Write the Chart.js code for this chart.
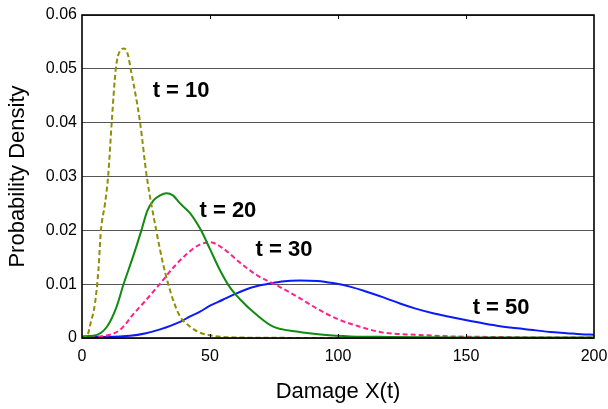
<!DOCTYPE html>
<html>
<head>
<meta charset="utf-8">
<script src="https://cdn.jsdelivr.net/npm/chart.js@4/dist/chart.umd.min.js"></script>
<style>
html,body{margin:0;padding:0;background:#fff;}
#c{display:block;}
</style>
</head>
<body>
<canvas id="c" width="608" height="409"></canvas>
<script>
// ---- Data ----
const t10X = [0,1.8,3.5,5.1,6.4,7.4,9,10.2,11.6,13.2,14.8,16.5,18,19,21,22.7,25.3,29,31.8,33.7,36,38.3,42,46,50,55,60,70,100,150,200];
const t10Y = [0,0.0002,0.003,0.0065,0.0126,0.02,0.025,0.03,0.04,0.05,0.0533,0.0538,0.0525,0.05,0.045,0.04,0.03,0.02,0.0135,0.01,0.0065,0.004,0.0022,0.001,0.0005,0.0002,0.0001,0.00005,0,0,0];

const t20X = [0,4.4,9.6,13.5,16.1,20,23.2,25.5,28,30.5,33,35.5,38.3,42.2,46.5,50,54,57.8,61.7,68.2,74.7,83.9,94.3,105,120,150,200];
const t20Y = [0.0003,0.0004,0.002,0.0058,0.0098,0.0152,0.02,0.0236,0.0256,0.0265,0.0269,0.0265,0.025,0.0232,0.02,0.0165,0.0125,0.0094,0.0072,0.0043,0.0021,0.0012,0.0006,0.0003,0.0002,0.0001,0.0001];

const t30X = [0,7,14.8,20,25.3,30.5,35.7,40.9,45.4,50,55.2,61.7,68.2,76,84,92,100,108.6,117.7,130.7,143.8,160,180,200];
const t30Y = [0.0002,0.0003,0.0015,0.0044,0.0072,0.0101,0.0131,0.0156,0.0172,0.0178,0.0166,0.014,0.0117,0.0098,0.0077,0.0054,0.0035,0.0021,0.001,0.0006,0.0003,0.0002,0.0001,0.0001];

const t50X = [0,10,18.75,25,30.5,38.3,42.2,46.1,50,55,59,65.6,72,78,85,92,98,105,111.2,118,124.2,130,137.1,143,150.3,157,163.3,170,176.2,183,189.3,195,200];
const t50Y = [0.0002,0.0002,0.0004,0.0009,0.0016,0.003,0.004,0.0049,0.006,0.0071,0.008,0.0093,0.01,0.0105,0.0107,0.0106,0.0102,0.0095,0.0086,0.0075,0.0064,0.0055,0.0046,0.004,0.0033,0.0027,0.0022,0.0018,0.0015,0.0011,0.0009,0.0007,0.0006];

const seriesNames = ['t = 10','t = 20','t = 30','t = 50'];
const xTickLabels = ['0','50','100','150','200'];
const yTickLabels = ['0','0.01','0.02','0.03','0.04','0.05','0.06'];
const xTitle = 'Damage X(t)';
const yTitle = 'Probability Density';

// label anchor points (data coordinates) for the curve annotations
const labelX = [38.7, 57, 78.9, 163.7];
const labelY = [0.0459, 0.0236, 0.0163, 0.0056];

function pts(xs, ys){ return xs.map((x,i)=>({x:x, y:ys[i]})); }

const FONT = "'Liberation Sans', Arial, Helvetica, sans-serif";

const framePlugin = {
  id: 'frame',
  afterDatasetsDraw(chart){
    const {ctx, chartArea:a, scales} = chart;
    const xs = scales.x, ys = scales.y;
    ctx.save();
    ctx.strokeStyle = '#000';
    ctx.lineWidth = 1;
    [50,100,150].forEach(v=>{
      const px = Math.round(xs.getPixelForValue(v)) + 0.5;
      ctx.beginPath();
      ctx.moveTo(px, a.bottom); ctx.lineTo(px, a.bottom - 4);
      ctx.moveTo(px, a.top); ctx.lineTo(px, a.top + 4);
      ctx.stroke();
    });
    ctx.lineWidth = 1.6;
    ctx.strokeRect(a.left, a.top, a.right - a.left, a.bottom - a.top);
    ctx.fillStyle = '#000';
    ctx.font = "bold 22px " + FONT;
    ctx.textAlign = 'center';
    ctx.textBaseline = 'middle';
    seriesNames.forEach((n,i)=>{
      ctx.fillText(n, xs.getPixelForValue(labelX[i]), ys.getPixelForValue(labelY[i]));
    });
    ctx.restore();
  }
};

const ctx = document.getElementById('c').getContext('2d');
new Chart(ctx, {
  type: 'line',
  data: {
    datasets: [
      {label: seriesNames[0], data: pts(t10X,t10Y), borderColor:'#8f8f00', borderDash:[5,3], borderWidth:2, pointRadius:0, fill:false, cubicInterpolationMode:'monotone'},
      {label: seriesNames[1], data: pts(t20X,t20Y), borderColor:'#108a10', borderWidth:2, pointRadius:0, fill:false, cubicInterpolationMode:'monotone'},
      {label: seriesNames[2], data: pts(t30X,t30Y), borderColor:'#ff2090', borderDash:[5,3], borderWidth:2, pointRadius:0, fill:false, cubicInterpolationMode:'monotone'},
      {label: seriesNames[3], data: pts(t50X,t50Y), borderColor:'#0a1aff', borderWidth:2, pointRadius:0, fill:false, cubicInterpolationMode:'monotone'}
    ]
  },
  options: {
    responsive: false,
    animation: false,
    devicePixelRatio: 1,
    layout: {padding: {top: 15, right: 14, left: 0, bottom: 0}},
    plugins: {legend: {display:false}, tooltip: {enabled:false}},
    scales: {
      x: {
        type: 'linear', min: 0, max: 200,
        afterBuildTicks(s){ s.ticks = xTickLabels.map(v=>({value: Number(v)})); },
        afterFit(s){ s.height = 71; s.paddingLeft = 0; s.paddingRight = 0; },
        grid: {display:false, drawTicks:false},
        border: {display:false},
        ticks: {
          padding: 9, color:'#000', maxRotation:0, autoSkip:false,
          font: {family: FONT, size: 16},
          callback: (v,i)=> xTickLabels[i]
        },
        title: {display:true, text:xTitle, color:'#000', font:{family:FONT, size:22, lineHeight:1.2}, padding:{top:0,bottom:4}}
      },
      y: {
        type: 'linear', min: 0, max: 0.06,
        afterBuildTicks(s){ s.ticks = yTickLabels.map(v=>({value: Number(v)})); },
        afterFit(s){ s.width = 82; s.paddingTop = 0; s.paddingBottom = 0; },
        grid: {color:'#555', lineWidth:1, drawTicks:false},
        border: {display:false},
        ticks: {
          padding: 5, color:'#000', autoSkip:false,
          font: {family: FONT, size: 16},
          callback: (v,i)=> yTickLabels[i]
        },
        title: {display:true, text:yTitle, color:'#000', font:{family:FONT, size:22, lineHeight:1.2}, padding:{top:5,bottom:0}}
      }
    }
  },
  plugins: [framePlugin]
});
</script>
</body>
</html>
